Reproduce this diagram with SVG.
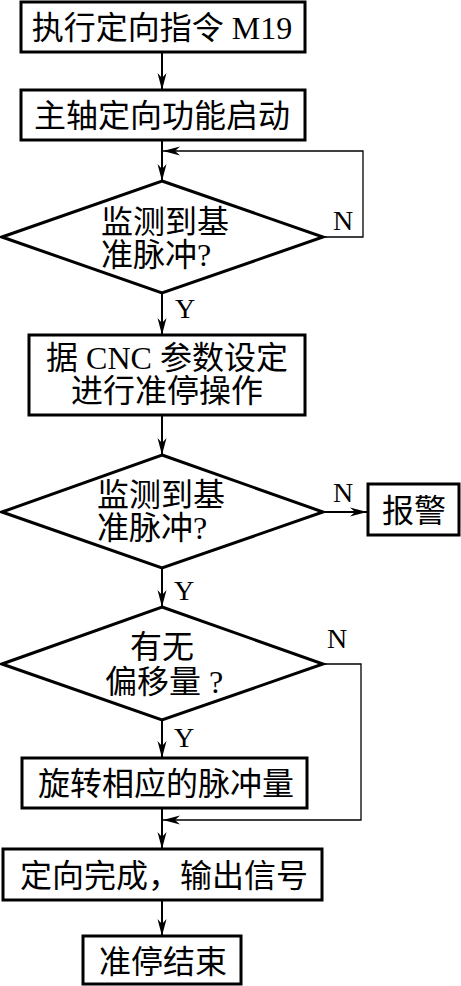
<svg xmlns="http://www.w3.org/2000/svg" width="461" height="986" viewBox="0 0 461 986">
<style>
.box{fill:#fff;stroke:#000;stroke-width:3}
.t{font-family:"Liberation Serif","Noto Sans CJK SC",serif;font-size:32px;fill:#000}
.c{text-anchor:middle}
.lab{font-family:"Liberation Serif",serif;font-size:28px;fill:#000}
.ln{fill:none;stroke:#000;stroke-width:2}
.thin{fill:none;stroke:#000;stroke-width:1.3}
</style>
<defs>
<marker id="ah" markerUnits="userSpaceOnUse" viewBox="-18 -6 20 12" refX="0" refY="0" markerWidth="20" markerHeight="12" orient="auto">
<path d="M0,0 L-17,-4.5 L-12,0 L-17,4.5 Z" fill="#000"/>
</marker>
</defs>
<rect width="461" height="986" fill="#fff"/>
<g id="connectors">
<line class="ln" x1="162" y1="52" x2="162" y2="90" marker-end="url(#ah)"/>
<line class="ln" x1="162" y1="140" x2="162" y2="181" marker-end="url(#ah)"/>
<polyline class="thin" points="323,237 363,237 363,151 163,151" marker-end="url(#ah)"/>
<line class="ln" x1="162" y1="293" x2="162" y2="335" marker-end="url(#ah)"/>
<line class="ln" x1="162" y1="415" x2="162" y2="455" marker-end="url(#ah)"/>
<line class="ln" x1="323" y1="512" x2="367" y2="512" marker-end="url(#ah)"/>
<line class="ln" x1="162" y1="568" x2="162" y2="607" marker-end="url(#ah)"/>
<line class="ln" x1="162" y1="720" x2="162" y2="758" marker-end="url(#ah)"/>
<polyline class="thin" points="323,664 361,664 361,820 163,820" marker-end="url(#ah)"/>
<line class="ln" x1="162" y1="808" x2="162" y2="849" marker-end="url(#ah)"/>
<line class="ln" x1="162" y1="900" x2="162" y2="936" marker-end="url(#ah)"/>
<text class="lab" x="333" y="230">N</text>
<text class="lab" x="175" y="318">Y</text>
<text class="lab" x="333" y="502">N</text>
<text class="lab" x="174" y="600">Y</text>
<text class="lab" x="327" y="648">N</text>
<text class="lab" x="174" y="747">Y</text>
</g>
<g id="n1">
<rect class="box" x="21" y="2" width="284" height="50"/>
<text class="t c" x="162" y="39">执行定向指令 M19</text>
</g>
<g id="n2">
<rect class="box" x="21" y="90" width="284" height="50"/>
<text class="t c" x="162" y="127">主轴定向功能启动</text>
</g>
<g id="n3">
<polygon class="box" points="162,181 323,237 162,293 2,237"/>
<text class="t" x="101" y="233">监测到基</text>
<text class="t" x="101" y="266">准脉冲?</text>
</g>
<g id="n4">
<rect class="box" x="29" y="335" width="276" height="80"/>
<text class="t c" x="167" y="369">据 CNC 参数设定</text>
<text class="t c" x="167" y="402">进行准停操作</text>
</g>
<g id="n5">
<polygon class="box" points="162,455 323,512 162,568 2,512"/>
<text class="t" x="97" y="506">监测到基</text>
<text class="t" x="97" y="539">准脉冲?</text>
</g>
<g id="n6">
<rect class="box" x="368" y="484" width="91" height="51"/>
<text class="t c" x="414" y="522">报警</text>
</g>
<g id="n7">
<polygon class="box" points="162,607 323,664 162,720 2,664"/>
<text class="t c" x="162" y="658">有无</text>
<text class="t c" x="164" y="693">偏移量 ?</text>
</g>
<g id="n8">
<rect class="box" x="22" y="758" width="285" height="50"/>
<text class="t c" x="166" y="795">旋转相应的脉冲量</text>
</g>
<g id="n9">
<rect class="box" x="3" y="849" width="319" height="51"/>
<text class="t c" x="164" y="887">定向完成，输出信号</text>
</g>
<g id="n10">
<rect class="box" x="83" y="936" width="158" height="48"/>
<text class="t c" x="163" y="973">准停结束</text>
</g>
</svg>
